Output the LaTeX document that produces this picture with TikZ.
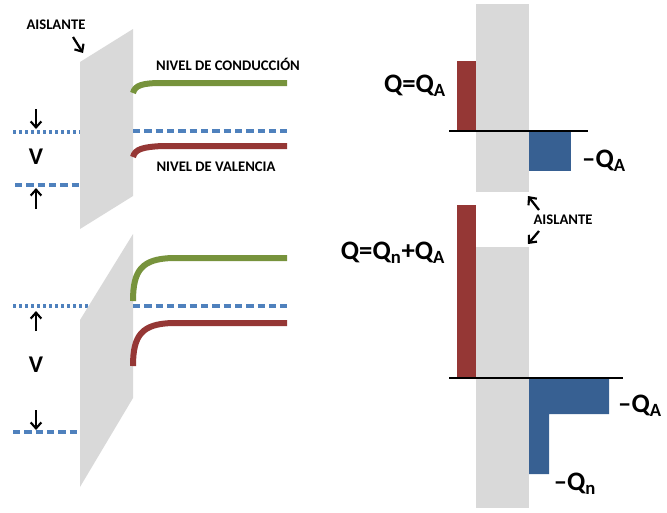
\documentclass[tikz,border=0pt]{standalone}
\usepackage{fontspec}
\setmainfont{Carlito}
\usetikzlibrary{arrows.meta}

\definecolor{aisgray}{HTML}{D9D9D9}
\definecolor{bandgreen}{HTML}{77933C}
\definecolor{bandred}{HTML}{953735}
\definecolor{fermiblue}{HTML}{4F81BD}
\definecolor{chargeblue}{HTML}{376092}

\tikzset{
  lbl/.style={font=\bfseries\fontsize{11}{13}\selectfont, inner sep=0pt},
  biglbl/.style={font=\bfseries\fontsize{20}{22}\selectfont, inner sep=0pt},
  vlbl/.style={font=\bfseries\fontsize{18}{20}\selectfont, inner sep=0pt},
  arr/.style={-{Straight Barb[length=4.5pt,width=8pt,line width=1.6pt]}, line width=1.7pt},
  band/.style={line width=4.5pt},
  fermi/.style={fermiblue, line width=2.3pt, dash pattern=on 5.5pt off 3pt},
  fermidot/.style={fermiblue, line width=2.3pt, dash pattern=on 2pt off 2.5pt},
}

\begin{document}
\begin{tikzpicture}[x=0.75pt,y=-0.75pt]
      \useasboundingbox (0,0) rectangle (667,512);

      % Top band diagram (V small)
      \draw[fermidot] (13,132) -- (82,132); % metal level
      \draw[fermi] (15,185) -- (82,185);
      \fill[aisgray] (80,62) -- (133,29) -- (133,196) -- (80,229) -- cycle; % insulator
      \draw[fermi] (133,131) -- (287,131);
      \draw[band, bandgreen] (133,93) .. controls (135,85) and (143,83) .. (162,83) -- (287,83);
      \draw[band, bandred] (133,157) .. controls (135,149) and (143,147) .. (162,146) -- (287,146);

      \node[lbl] (aisl1) at (56,25) {AISLANTE};
      \node[lbl] (cond) at (228,64) {NIVEL DE CONDUCCIÓN};
      \node[lbl] (val) at (216,167) {NIVEL DE VALENCIA};
      \node[vlbl] (v1) at (36,157) {V};

      \coordinate (a1s) at (73,37);  \coordinate (a1e) at (83,53);
      \draw[arr] (a1s) -- (a1e);
      \coordinate (v1a) at (36,109); \coordinate (v1b) at (36,129);
      \draw[arr] (v1a) -- (v1b);
      \coordinate (v1c) at (36,209); \coordinate (v1d) at (36,188);
      \draw[arr] (v1c) -- (v1d);

      % Bottom band diagram (V large)
      \draw[fermidot] (13,306) -- (92,306);
      \draw[fermi] (13,432) -- (82,432);
      \fill[aisgray] (80,320) -- (133,234) -- (133,398) -- (80,487) -- cycle;
      \draw[fermi] (133,306) -- (287,306);
      \draw[band, bandgreen] (133,301) .. controls (133,270) and (142,259) .. (172,258) -- (287,258);
      \draw[band, bandred] (133,366) .. controls (133,335) and (142,324) .. (172,323) -- (287,323);

      \node[vlbl] (v2) at (36,365) {V};
      \coordinate (v2a) at (36,331); \coordinate (v2b) at (36,311);
      \draw[arr] (v2a) -- (v2b);
      \coordinate (v2c) at (36,410); \coordinate (v2d) at (36,430);
      \draw[arr] (v2c) -- (v2d);

      % Top charge diagram
      \fill[aisgray] (476,4) rectangle (529,192);
      \fill[bandred] (457,61) rectangle (476,131);
      \fill[chargeblue] (529,131) rectangle (571,171);
      \draw[line width=1.8pt] (449,131) -- (588,131);
      \node[biglbl] (qa) at (415,86) {Q=Q\textsubscript{A}};
      \node[biglbl] (mqa) at (604,161) {–Q\textsubscript{A}};

      % Bottom charge diagram
      \fill[aisgray] (476,247) rectangle (529,508);
      \fill[bandred] (457,205) rectangle (476,378);
      \fill[chargeblue] (529,378) -- (609,378) -- (609,414) -- (549,414) -- (549,474) -- (529,474) -- cycle;
      \draw[line width=1.8pt] (449,378) -- (623,378);
      \node[biglbl] (qna) at (393,253) {Q=Q\textsubscript{n}+Q\textsubscript{A}};
      \node[biglbl] (mqa2) at (640,406) {–Q\textsubscript{A}};
      \node[biglbl] (mqn) at (575,484) {–Q\textsubscript{n}};

      \node[lbl] (aisl2) at (563,220) {AISLANTE};
      \coordinate (a2s) at (539,210); \coordinate (a2e) at (528,196);
      \draw[arr] (a2s) -- (a2e);
      \coordinate (a3s) at (539,231); \coordinate (a3e) at (528,244);
      \draw[arr] (a3s) -- (a3e);

  \end{tikzpicture}
\end{document}
